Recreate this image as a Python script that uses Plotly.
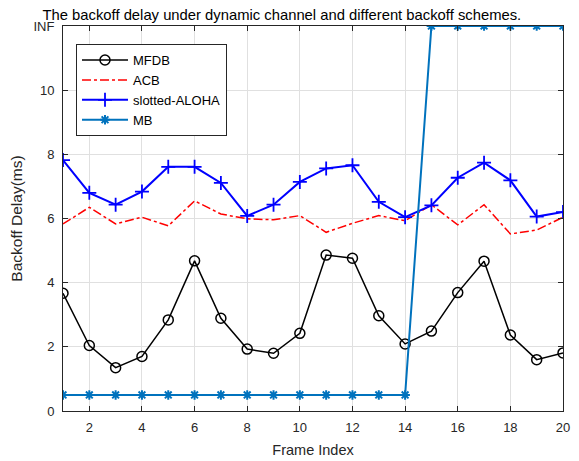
import plotly.graph_objects as go

frames = list(range(1, 21))

mfdb = [3.67, 2.04, 1.35, 1.70, 2.84, 4.68, 2.89, 1.93, 1.80, 2.42,
        4.86, 4.76, 2.97, 2.09, 2.49, 3.69, 4.67, 2.37, 1.60, 1.81]
acb = [5.83, 6.35, 5.83, 6.04, 5.77, 6.55, 6.14, 5.99, 5.96, 6.09,
       5.57, 5.85, 6.09, 5.93, 6.43, 5.80, 6.43, 5.52, 5.64, 6.04]
aloha = [7.82, 6.80, 6.43, 6.84, 7.61, 7.61, 7.11, 6.08, 6.43, 7.14,
         7.56, 7.66, 6.52, 6.04, 6.41, 7.27, 7.74, 7.19, 6.06, 6.20]
INF = 12
mb = [0.5] * 14 + [INF] * 6

y_ticks = [0, 2, 4, 6, 8, 10, INF]
y_labels = ["0", "2", "4", "6", "8", "10", "INF"]
x_ticks = list(range(2, 21, 2))

FONT = "Liberation Sans, Arial, sans-serif"
AXIS = "#262626"

fig = go.Figure()

fig.add_trace(go.Scatter(
    x=frames, y=mfdb, name="MFDB", mode="lines+markers",
    line={"color": "black", "width": 1.5},
    marker={"symbol": "circle-open", "size": 10, "color": "black", "line": {"width": 1.5}},
))
fig.add_trace(go.Scatter(
    x=frames, y=acb, name="ACB", mode="lines",
    line={"color": "#ff0000", "width": 1.5, "dash": "dashdot"},
))
fig.add_trace(go.Scatter(
    x=frames, y=aloha, name="slotted-ALOHA", mode="lines+markers",
    line={"color": "#0000ff", "width": 2},
    marker={"symbol": "cross-thin-open", "size": 10, "color": "#0000ff", "line": {"width": 1.8, "color": "#0000ff"}},
))
fig.add_trace(go.Scatter(
    x=frames, y=mb, name="MB", mode="lines+markers",
    line={"color": "#0072BD", "width": 2},
    marker={"symbol": "asterisk-open", "size": 8, "color": "#0072BD", "line": {"width": 2, "color": "#0072BD"}},
))

# the page body adds an 8px margin, so the figure is laid out 8px up/left of the target
fig.update_layout(
    width=579,
    height=461,
    paper_bgcolor="white",
    plot_bgcolor="white",
    margin={"l": 55, "r": 24, "t": 18, "b": 58},
    font={"family": FONT, "size": 13, "color": AXIS},
    title={
        "text": "The backoff delay under dynamic channel and different backoff schemes.",
        "x": 0.473, "xanchor": "center", "y": 0.986, "yanchor": "middle",
        "font": {"size": 14.8, "color": "black"},
    },
    legend={
        "x": 0.026, "y": 0.953, "xanchor": "left", "yanchor": "top",
        "bordercolor": AXIS, "borderwidth": 1, "bgcolor": "white",
        "font": {"size": 13, "color": "black"},
        "tracegroupgap": 0, "itemwidth": 46,
    },
)
fig.update_xaxes(
    range=[1, 20], tickvals=x_ticks, showgrid=True, gridcolor="#e0e0e0",
    showline=True, linecolor=AXIS, linewidth=1, mirror="ticks",
    ticks="inside", ticklen=5, tickcolor=AXIS, zeroline=False,
    ticklabelstandoff=4, automargin=False,
    title={"text": "Frame Index", "font": {"size": 14.5}, "standoff": 11},
)
fig.update_yaxes(
    range=[0, INF], tickvals=y_ticks, ticktext=y_labels, showgrid=True, gridcolor="#e0e0e0",
    showline=True, linecolor=AXIS, linewidth=1, mirror="ticks",
    ticks="inside", ticklen=5, tickcolor=AXIS, zeroline=False,
    ticklabelstandoff=5, automargin=False,
    title={"text": "Backoff Delay(ms)", "font": {"size": 15.5}, "standoff": 10},
)

fig.write_html("out.html")
